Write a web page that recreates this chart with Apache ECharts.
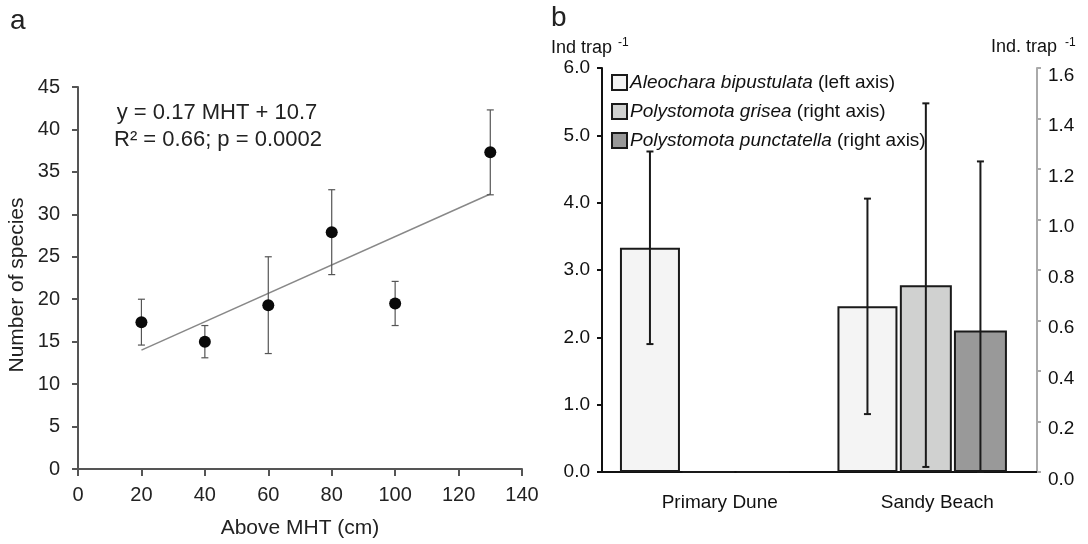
<!DOCTYPE html>
<html>
<head>
<meta charset="utf-8">
<script src="https://cdn.jsdelivr.net/npm/echarts@6/dist/echarts.min.js"></script>
<style>
html, body { margin: 0; background: #fff; }
#chart { width: 1088px; height: 544px; }
</style>
</head>
<body>
<div id="chart"></div>
<script>
// panel a - number of species vs height above MHT
var heightCm = [20, 40, 60, 80, 100, 130];
var speciesMean = [17.3, 15.0, 19.3, 27.9, 19.5, 37.3];
var speciesErr = [2.7, 1.9, 5.7, 5.0, 2.6, 5.0];
var fitX = [20, 130];
var fitY = [14.0, 32.4];

// panel b - individuals per trap
var habitats = ['Primary Dune', 'Sandy Beach'];
var aleocharaMean = [3.33, 2.46];
var aleocharaErr = [1.43, 1.60];
var griseaMean = [0, 0.74];
var griseaErr = [0, 0.72];
var punctatellaMean = [0, 0.56];
var punctatellaErr = [0, 0.67];

var font = 'Liberation Sans, Arial, sans-serif';
var txt = '#222';

// last one is an empty spacer so the group sits a bit left of centre like the original
var barWidths = [60, 52, 53, 10];
var barGapPct = 0.04;

// same maths as echarts bar layout, to put error bars on bar centres
let barCenters = () => {
    let sum = 0;
    barWidths.forEach(w => { sum += w * (1 + barGapPct); });
    sum -= barWidths[barWidths.length - 1] * barGapPct;
    let off = -sum / 2, out = [];
    barWidths.forEach(w => { out.push(off + w / 2); off += w * (1 + barGapPct); });
    return out;
};
var centers = barCenters();

let errorBars = (capHalf, lineW, color, dx) => {
    return function (params, api) {
        var x = api.value(0), m = api.value(1), e = api.value(2);
        if (!e) return null;
        var top = api.coord([x, m + e]);
        var bot = api.coord([x, Math.max(0, m - e)]);
        var cx = top[0] + dx;
        var st = { stroke: color, lineWidth: lineW };
        return {
            type: 'group',
            children: [
                { type: 'line', shape: { x1: cx, y1: top[1], x2: cx, y2: bot[1] }, style: st },
                { type: 'line', shape: { x1: cx - capHalf, y1: top[1], x2: cx + capHalf, y2: top[1] }, style: st },
                { type: 'line', shape: { x1: cx - capHalf, y1: bot[1], x2: cx + capHalf, y2: bot[1] }, style: st }
            ]
        };
    };
};

let triples = (mean, err) => habitats.map((h, i) => [i, mean[i], err[i]]);

var chart = echarts.init(document.getElementById('chart'), null, { renderer: 'canvas' });

var option = {
    animation: false,
    textStyle: { fontFamily: font, color: txt },
    grid: [
        { left: 78, right: 566, top: 87, bottom: 74 },
        { left: 602, right: 51, top: 68, bottom: 72 }
    ],
    xAxis: [
        {
            type: 'value', gridIndex: 0, min: 0, max: 140, interval: 20,
            name: 'Above MHT (cm)', nameLocation: 'middle', nameGap: 49,
            nameTextStyle: { fontSize: 21, color: txt, fontFamily: font },
            axisLine: { lineStyle: { color: '#555', width: 2 } },
            axisTick: { length: 7, lineStyle: { color: '#555', width: 2 } },
            axisLabel: { fontSize: 20, color: txt, margin: 16, fontFamily: font },
            splitLine: { show: false }
        },
        {
            type: 'category', gridIndex: 1, data: habitats,
            axisLine: { lineStyle: { color: '#111', width: 2 } },
            axisTick: { length: 5, lineStyle: { color: '#111', width: 2 } },
            axisLabel: { fontSize: 19, color: '#111', margin: 21, padding: [0, 0, 0, 18], fontFamily: font }
        }
    ],
    yAxis: [
        {
            type: 'value', gridIndex: 0, min: 0, max: 45, interval: 5,
            name: 'Number of species', nameLocation: 'middle', nameGap: 50,
            nameTextStyle: { fontSize: 21, color: txt, fontFamily: font, padding: [0, 14, 0, 0] },
            axisLine: { show: true, lineStyle: { color: '#555', width: 2 } },
            axisTick: { show: true, length: 6, lineStyle: { color: '#555', width: 2 } },
            axisLabel: { fontSize: 20, color: txt, margin: 18, fontFamily: font },
            splitLine: { show: false }
        },
        {
            type: 'value', gridIndex: 1, position: 'left', min: 0, max: 6, interval: 1,
            axisLine: { show: true, lineStyle: { color: '#111', width: 2 } },
            axisTick: { show: true, length: 5, lineStyle: { color: '#111', width: 2 } },
            axisLabel: { fontSize: 19, color: '#111', margin: 12, fontFamily: font, formatter: v => v.toFixed(1) },
            splitLine: { show: false }
        },
        {
            type: 'value', gridIndex: 1, position: 'right', min: 0, max: 1.6, interval: 0.2,
            axisLine: { show: true, lineStyle: { color: '#aaa', width: 2 } },
            axisTick: { show: true, length: 4, lineStyle: { color: '#aaa', width: 2 } },
            axisLabel: {
                fontSize: 19, color: '#111', margin: 11, fontFamily: font,
                verticalAlign: 'top', lineHeight: 15,
                formatter: v => v.toFixed(1)
            },
            splitLine: { show: false }
        }
    ],
    legend: {
        left: 611, top: 73, orient: 'vertical', padding: 0,
        itemWidth: 15, itemHeight: 15, itemGap: 10,
        icon: 'rect',
        data: ['Aleochara bipustulata', 'Polystomota grisea', 'Polystomota punctatella'],
        formatter: function (name) {
            var side = name.indexOf('Aleochara') === 0 ? '(left axis)' : '(right axis)';
            return '{i|' + name + '} ' + side;
        },
        textStyle: {
            fontSize: 19, color: '#111', fontFamily: font, lineHeight: 19, padding: [0, 0, 0, -2],
            rich: { i: { fontStyle: 'italic', fontSize: 19, fontFamily: font, color: '#111' } }
        }
    },
    graphic: [
        { type: 'text', left: 10, top: 7, style: { text: 'a', fontSize: 28, fontFamily: font, fill: txt } },
        { type: 'text', left: 551, top: 4, style: { text: 'b', fontSize: 28, fontFamily: font, fill: txt } },
        { type: 'text', x: 217, y: 113, style: { text: 'y = 0.17 MHT + 10.7', fontSize: 22, fontFamily: font, fill: txt, align: 'center', verticalAlign: 'middle' } },
        { type: 'text', x: 218, y: 140, style: { text: 'R\u00b2 = 0.66; p = 0.0002', fontSize: 22, fontFamily: font, fill: txt, align: 'center', verticalAlign: 'middle' } },
        { type: 'text', x: 551, y: 48, style: { text: 'Ind trap', fontSize: 18, fontFamily: font, fill: '#111', verticalAlign: 'middle' } },
        { type: 'text', x: 618, y: 43, style: { text: '-1', fontSize: 12, fontFamily: font, fill: '#111', verticalAlign: 'middle' } },
        { type: 'text', x: 991, y: 47, style: { text: 'Ind. trap', fontSize: 18, fontFamily: font, fill: '#111', verticalAlign: 'middle' } },
        { type: 'text', x: 1065, y: 43, style: { text: '-1', fontSize: 12, fontFamily: font, fill: '#111', verticalAlign: 'middle' } }
    ],
    series: [
        {
            type: 'line', xAxisIndex: 0, yAxisIndex: 0,
            data: fitX.map((x, i) => [x, fitY[i]]),
            symbol: 'none', lineStyle: { color: '#888', width: 1.5 }, z: 1
        },
        {
            type: 'custom', xAxisIndex: 0, yAxisIndex: 0,
            data: heightCm.map((x, i) => [x, speciesMean[i], speciesErr[i]]),
            renderItem: errorBars(3.5, 1.2, '#555', 0), z: 2
        },
        {
            type: 'scatter', xAxisIndex: 0, yAxisIndex: 0,
            data: heightCm.map((x, i) => [x, speciesMean[i]]),
            symbolSize: 12, itemStyle: { color: '#0a0a0a', opacity: 1 }, z: 3
        },
        {
            name: 'Aleochara bipustulata', type: 'bar', xAxisIndex: 1, yAxisIndex: 1,
            data: aleocharaMean, barWidth: barWidths[0], barGap: '4%',
            itemStyle: { color: '#f4f4f4', borderColor: '#1a1a1a', borderWidth: 2 }
        },
        {
            name: 'Polystomota grisea', type: 'bar', xAxisIndex: 1, yAxisIndex: 2,
            data: griseaMean, barWidth: barWidths[1], barGap: '4%',
            itemStyle: { color: '#d0d1d0', borderColor: '#1a1a1a', borderWidth: 2 }
        },
        {
            name: 'Polystomota punctatella', type: 'bar', xAxisIndex: 1, yAxisIndex: 2,
            data: punctatellaMean, barWidth: barWidths[2], barGap: '4%',
            itemStyle: { color: '#999999', borderColor: '#1a1a1a', borderWidth: 2 }
        },
        {
            name: 'spacer', type: 'bar', xAxisIndex: 1, yAxisIndex: 2,
            data: habitats.map(() => null), barWidth: barWidths[3], barGap: '4%',
            itemStyle: { color: 'transparent' }, silent: true
        },
        {
            type: 'custom', xAxisIndex: 1, yAxisIndex: 1,
            data: triples(aleocharaMean, aleocharaErr),
            renderItem: errorBars(3.5, 2, '#1a1a1a', centers[0]), z: 5
        },
        {
            type: 'custom', xAxisIndex: 1, yAxisIndex: 2,
            data: triples(griseaMean, griseaErr),
            renderItem: errorBars(3.5, 2, '#1a1a1a', centers[1]), z: 5
        },
        {
            type: 'custom', xAxisIndex: 1, yAxisIndex: 2,
            data: triples(punctatellaMean, punctatellaErr),
            renderItem: errorBars(3.5, 2, '#1a1a1a', centers[2]), z: 5
        }
    ]
};

chart.setOption(option);
window.addEventListener('resize', chart.resize);
</script>
</body>
</html>
